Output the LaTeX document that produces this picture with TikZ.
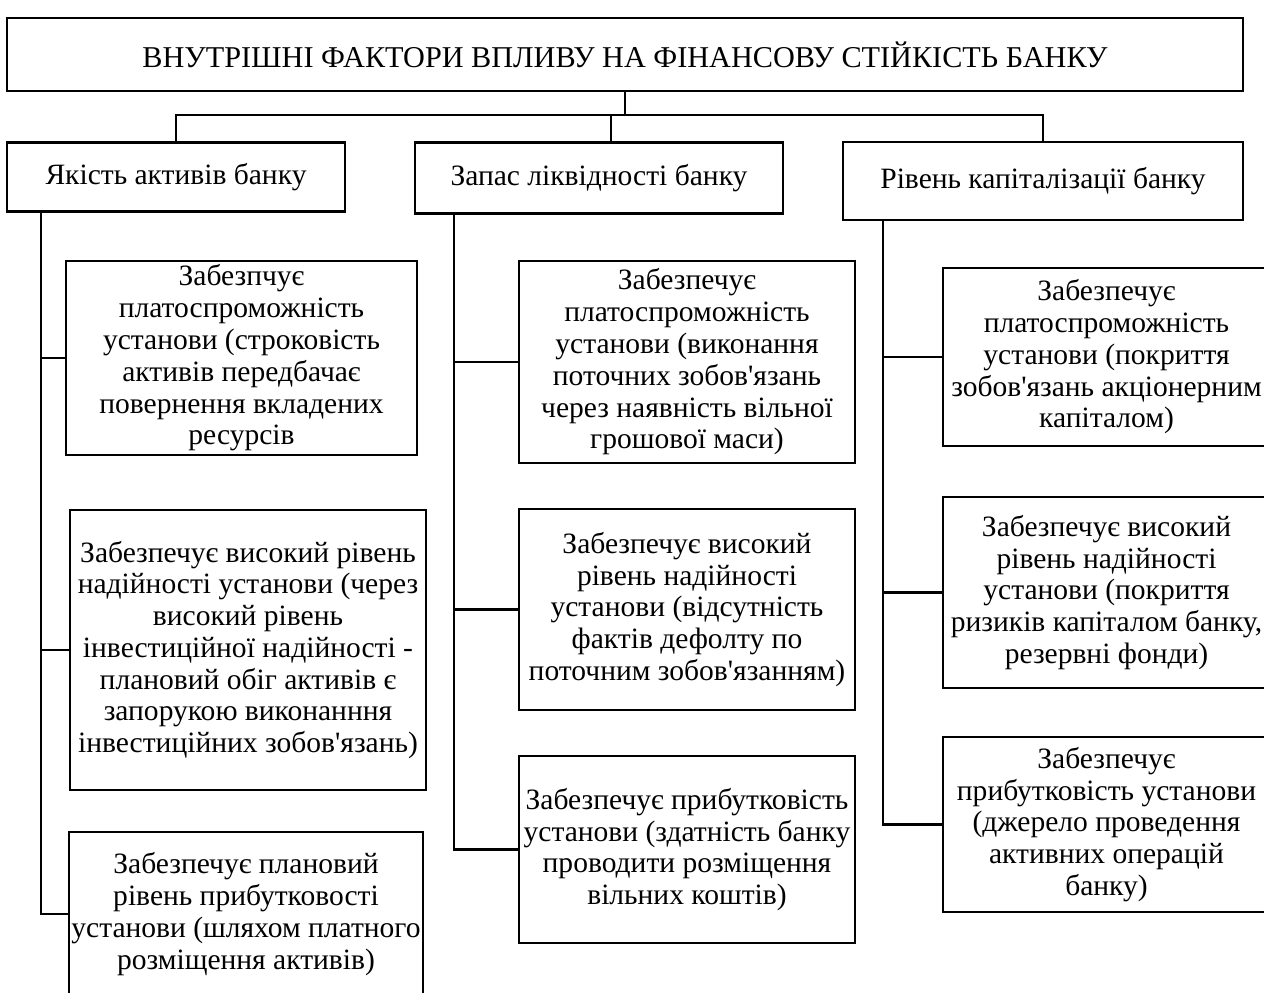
\documentclass[tikz,border=0pt]{standalone}
\usepackage{fontspec}
\setmainfont{Liberation Serif}[Ligatures=TeXOff]
\usetikzlibrary{calc}

\begin{document}
\begin{tikzpicture}[x=0.025cm, y=-0.025cm,
		box/.style={
				draw,
				line width=1.5pt,
				align=center,
				inner sep=0pt,
				font=\fontsize{21}{22.6}\selectfont},
		wh/.style 2 args={minimum width=#1*0.025cm, minimum height=#2*0.025cm},
		link/.style={line width=1.8pt}]

	\useasboundingbox (0,0) rectangle (1264,993);

	% top level
	\node[box, wh={1236}{73}, font=\fontsize{21.5}{24}\selectfont] (top) at (625,54.5)
		{ВНУТРІШНІ ФАКТОРИ ВПЛИВУ НА ФІНАНСОВУ СТІЙКІСТЬ БАНКУ};

	% factors
	\node[box, wh={338}{69}] (qual) at (176,177) {Якість активів банку};
	\node[box, wh={368}{71}] (liq) at (599,178) {Запас ліквідності банку};
	\node[box, wh={400}{78}] (cap) at (1043,181) {Рівень капіталізації банку};

	% asset quality
	\node[box, wh={351}{194}] (qa1) at (241.5,358)
		{Забезпчує\\платоспроможність\\установи (строковість\\активів передбачає\\повернення вкладених\\ресурсів};
	\node[box, wh={356}{280}] (qa2) at (248,650)
		{Забезпечує високий рівень\\надійності установи (через\\високий рівень\\інвестиційної надійності -\\плановий обіг активів є\\запорукою виконанння\\інвестиційних зобов'язань)};
	\node[box, wh={354}{164}] (qa3) at (246,914)
		{Забезпечує плановий\\рівень прибутковості\\установи (шляхом платного\\розміщення активів)};

	% liquidity
	\node[box, wh={336}{202}] (lq1) at (687,362)
		{Забезпечує\\платоспроможність\\установи (виконання\\поточних зобов'язань\\через наявність вільної\\грошової маси)};
	\node[box, wh={336}{201}] (lq2) at (687,609.5)
		{Забезпечує високий\\рівень надійності\\установи (відсутність\\фактів дефолту по\\поточним зобов'язанням)};
	\node[box, wh={336}{187}] (lq3) at (687,849.5)
		{Забезпечує прибутковість\\установи (здатність банку\\проводити розміщення\\вільних коштів)};

	% capitalization
	\node[box, wh={327}{178}] (cp1) at (1106.5,357)
		{Забезпечує\\платоспроможність\\установи (покриття\\зобов'язань акціонерним\\капіталом)};
	\node[box, wh={327}{191}] (cp2) at (1106.5,592.5)
		{Забезпечує високий\\рівень надійності\\установи (покриття\\ризиків капіталом банку,\\резервні фонди)};
	\node[box, wh={327}{175}] (cp3) at (1106.5,824.5)
		{Забезпечує\\прибутковість установи\\(джерело проведення\\активних операцій\\банку)};

	% connectors
	\coordinate (bus) at (626,115);
	\coordinate (lb) at ($(liq.north)+(12,0)$);
	\draw[link] (top.south) -- (top.south |- bus);
	\draw[link] (qual.north) |- (bus) -| (cap.north);
	\draw[link] (lb) -- (lb |- bus);

	\coordinate (qt) at ($(qual.south west)+(35,0)$);
	\coordinate (lt) at ($(liq.south west)+(40,0)$);
	\coordinate (ct) at ($(cap.south west)+(41,0)$);
	\foreach \n in {qa1,qa2,qa3} \draw[link] (qt) |- (\n.west);
	\foreach \n in {lq1,lq2,lq3} \draw[link] (lt) |- (\n.west);
	\foreach \n in {cp1,cp2,cp3} \draw[link] (ct) |- (\n.west);

\end{tikzpicture}
\end{document}
